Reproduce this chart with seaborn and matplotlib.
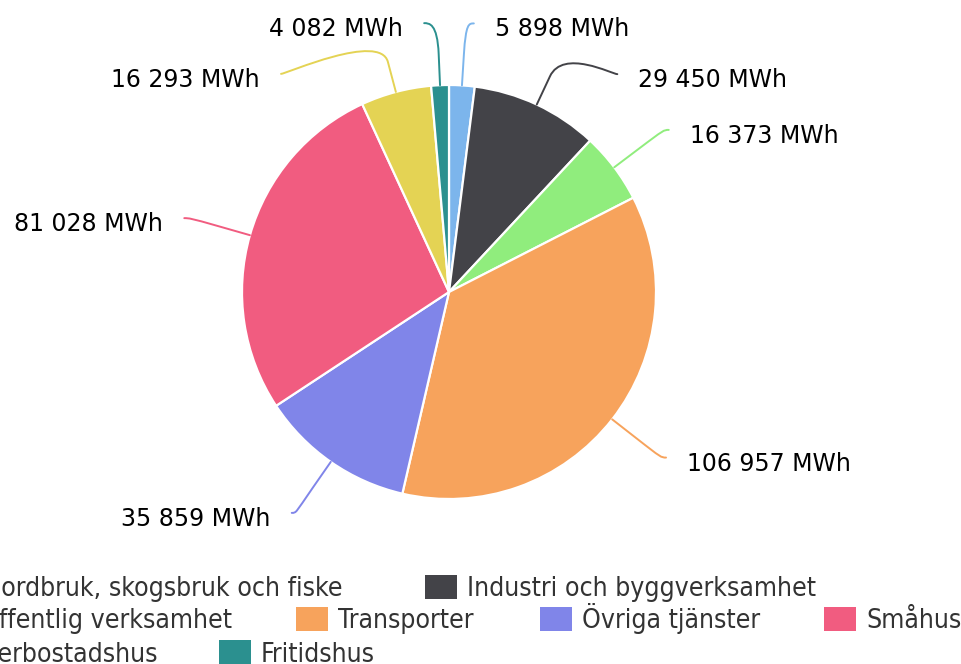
import numpy as np
import matplotlib
matplotlib.use("Agg")
import matplotlib.pyplot as plt
from matplotlib.path import Path
from matplotlib.patches import PathPatch, FancyBboxPatch
import seaborn as sns

# ---------------- data ----------------
categories = [
    "Jordbruk, skogsbruk och fiske",
    "Industri och byggverksamhet",
    "Offentlig verksamhet",
    "Transporter",
    "Övriga tjänster",
    "Småhus",
    "Flerbostadshus",
    "Fritidshus",
]
values_mwh = [5898, 29450, 16373, 106957, 35859, 81028, 16293, 4082]
colors_hex = ["#7cb5ec", "#434348", "#90ed7d", "#f7a35c",
              "#8085e9", "#f15c80", "#e4d354", "#2b908f"]
unit = "MWh"

# legend rows (indices into categories)
legend_rows = [[0, 1], [2, 3, 4, 5], [6, 7]]

# ---------------- figure ----------------
sns.set_theme(style="white")
plt.rcParams["font.family"] = ["DejaVu Sans"]
palette = sns.color_palette(colors_hex)

W, H, DPI = 962, 664, 100
fig = plt.figure(figsize=(W / DPI, H / DPI), dpi=DPI)
fig.patch.set_facecolor("white")
ax = fig.add_axes([0, 0, 1, 1])

cx_px, cy_px, r_px = 449.0, 292.0, 207.0

ax.pie(values_mwh, colors=palette, startangle=90, counterclock=False,
       radius=1.0, center=(0, 0),
       wedgeprops=dict(edgecolor="white", linewidth=1.6, antialiased=True))
ax.set_xlim(-cx_px / r_px, (W - cx_px) / r_px)
ax.set_ylim(-(H - cy_px) / r_px, cy_px / r_px)
ax.set_aspect("equal")
ax.set_axis_off()

# ---------------- data labels ----------------
vals = np.array(values_mwh, dtype=float)
frac = vals / vals.sum()
mid = (np.cumsum(frac) - frac / 2) * 2 * np.pi  # clockwise from top
R_x, R_y, top_lim, gap, min_dx = 1.33, 1.30, 1.30, 0.245, 0.12

labels = []
for i, th in enumerate(mid):
    side = 1 if np.sin(th) >= 0 else -1
    x0 = R_x * np.sin(th)
    x0 = side * max(abs(x0), min_dx)
    labels.append(dict(i=i, th=th, side=side,
                       y=min(R_y * np.cos(th), top_lim), x=x0))

for side in (1, -1):
    group = sorted([l for l in labels if l["side"] == side], key=lambda l: -l["y"])
    prev = None
    for l in group:
        if prev is not None and l["y"] > prev - gap:
            l["y"] = prev - gap
            l["x"] = side * np.sqrt(max(R_x ** 2 - l["y"] ** 2, 0))
        prev = l["y"]

def fmt(v):
    return f"{v:,}".replace(",", " ") + " " + unit

for l in labels:
    i, th, side = l["i"], l["th"], l["side"]
    col = colors_hex[i]
    touch = np.array([np.sin(th), np.cos(th)]) * 1.0
    brk = np.array([np.sin(th), np.cos(th)]) * 1.15
    lab = np.array([l["x"], l["y"]])
    c1 = lab + np.array([-side * 5 / r_px, 0])
    c2 = 2 * brk - touch
    verts = [tuple(lab), tuple(c1), tuple(c2), tuple(brk), tuple(touch)]
    codes = [Path.MOVETO, Path.CURVE4, Path.CURVE4, Path.CURVE4, Path.LINETO]
    ax.add_patch(PathPatch(Path(verts, codes), fill=False, edgecolor=col,
                           linewidth=1.4, capstyle="round", zorder=1))
    ax.annotate(fmt(values_mwh[i]), xy=tuple(lab),
                xytext=(side * 21, -13), textcoords="offset pixels",
                ha="left" if side > 0 else "right", va="baseline",
                fontsize=17, color="#000000", fontfamily="DejaVu Sans")

# ---------------- legend ----------------
def fx(x):
    return x / W

def fy(y):
    return 1 - y / H

row_y = [587, 619, 652]
# first item per row: right end of text; others: left of symbol
row_first_text_end = [343, 232, 158]
row_symbol_left = [[425], [296, 540, 824], [219]]
sym_w, sym_h, text_off = 32, 24, 42
leg_font = dict(fontsize=19.1, color="#333333", fontfamily="DejaVu Sans",
                fontstretch="condensed")

for r, row in enumerate(legend_rows):
    yc = row_y[r]
    for k, idx in enumerate(row):
        if k == 0:
            fig.text(fx(row_first_text_end[r]), fy(yc + 9.5), categories[idx],
                     ha="right", va="baseline", **leg_font)
        else:
            xl = row_symbol_left[r][k - 1]
            fig.patches.append(FancyBboxPatch(
                (fx(xl), fy(yc + sym_h / 2)), sym_w / W, sym_h / H,
                boxstyle="square,pad=0", transform=fig.transFigure,
                facecolor=colors_hex[idx], edgecolor="none", figure=fig))
            fig.text(fx(xl + text_off), fy(yc + 9.5), categories[idx],
                     ha="left", va="baseline", **leg_font)

fig.savefig("out.png", dpi=DPI, facecolor="white")
